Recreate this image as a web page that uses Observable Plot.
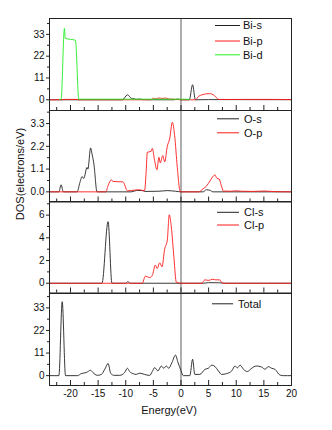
<!DOCTYPE html>
<html><head><meta charset="utf-8">
<script src="https://cdn.jsdelivr.net/npm/d3@7"></script>
<script src="https://cdn.jsdelivr.net/npm/@observablehq/plot@0.6"></script>
<style>
body{margin:0;background:#fff;}
#wrap{position:relative;width:332px;height:430px;font-family:"Liberation Sans",Arial,sans-serif;color:#111;}
#wrap svg{position:absolute;left:0;overflow:visible;}
.lbl{position:absolute;white-space:nowrap;font-size:11px;transform:translate(-50%,-50%);}
</style></head><body><div id="wrap"></div>
<script>
// ---- data (energy eV, DOS) ----
const energyTicks = [-20,-15,-10,-5,0,5,10,15,20];
const energyMinor = [-22.5,-17.5,-12.5,-7.5,-2.5,2.5,7.5,12.5,17.5];

const biS = [[-23.8,0],[-10.6,0],[-9.7,2.5],[-9.0,0.8],[-8.5,0.5],[-8,0.2],[-7.5,0.4],[-7,0.1],[-5,0],[-1.2,0],[-0.6,0.4],[0,0],[1.5,0],[2.1,7.6],[2.6,0],[5,0.1],[20,0.05]];
const biP = [[-23.8,0],[-21.8,0],[-21,0.2],[-19,0.2],[-18.5,0],[-5.5,0],[-5,0.8],[-4.6,0.5],[-4,0.9],[-3.4,0.7],[-2.8,0.9],[-2.2,0.4],[-1.5,0.3],[-0.5,0.1],[0,0],[2.6,0],[3.2,1.8],[3.8,2.5],[4.6,3.0],[5.2,3.1],[5.8,2.6],[6.3,1.5],[6.8,0.2],[8,0.15],[12,0.2],[16,0.2],[20,0.1]];
const biD = [[-22,0.2],[-21.7,0.3],[-21.1,36],[-20.95,31],[-19.1,30],[-18.5,0.3],[-15,0.3],[-10,0.3],[-5,0.3],[0,0.3],[1.6,0.2]];

const oS = [[-23.8,0],[-22.1,0],[-21.7,0.34],[-21.3,0],[-18.8,0],[-18.3,0.45],[-17.9,0.74],[-17.6,0.65],[-17.0,1.18],[-16.85,1.1],[-16.36,2.12],[-16.1,1.83],[-15.76,1.34],[-15.2,0],[-9,0],[-8,0.07],[-7,0.06],[-6.5,0.02],[-4,0.03],[-2.5,0.06],[-1,0.03],[0,0],[4,0],[4.6,0.1],[5.2,0.08],[5.8,0],[20,0]];
const oP = [[-23.8,0],[-13.6,0],[-13.2,0.3],[-12.6,0.58],[-12.3,0.5],[-10.5,0.48],[-9.7,0.05],[-8.5,0.08],[-7.5,0.1],[-6.6,0.05],[-6.3,1.0],[-6.1,1.91],[-5.4,1.96],[-5.2,2.1],[-4.77,1.5],[-4.35,1.07],[-4.0,1.67],[-3.75,1.4],[-3.3,1.75],[-2.95,1.45],[-2.48,2.2],[-2.05,2.56],[-1.57,3.36],[-1.15,2.72],[-0.67,1.18],[-0.13,0],[3.2,0],[4.0,0.15],[4.65,0.29],[5.25,0.53],[6.16,0.82],[6.47,0.66],[6.9,0.62],[7.3,0.3],[7.66,0.04],[9,0.03],[10,0.05],[11,0.03],[13,0.02],[15,0.04],[17,0.01],[20,0]];

const clS = [[-23.8,0],[-14.3,0],[-13.2,5.43],[-12.5,0],[-10,0],[-9.6,0.15],[-9.2,0],[4,0],[5,0.05],[7,0.04],[8,0],[20,0]];
const clP = [[-23.8,0],[-7,0],[-6.46,0.62],[-5.67,0.5],[-5.2,0.68],[-4.65,1.6],[-4.3,1.3],[-3.86,1.8],[-3.44,1.45],[-2.96,3.0],[-2.48,3.8],[-2.12,6.03],[-1.76,5.0],[-1.27,2.2],[-0.85,0.1],[0,0],[3.8,0],[4.3,0.3],[5,0.25],[5.7,0.35],[6.3,0.3],[7,0.3],[7.5,0],[20,0]];

const total = [[-23.8,0],[-22.1,0],[-21.5,36],[-20.9,0],[-18.7,0],[-18.06,1.0],[-17.15,1.5],[-16.36,2.6],[-15.94,1.5],[-15.16,0.15],[-14.4,0.6],[-13.8,3.1],[-13.2,5.9],[-12.7,1],[-12.1,0.15],[-11.1,0.15],[-10.2,1.5],[-9.7,3.6],[-9.3,2],[-8.7,1],[-8.1,0.6],[-7.5,1.2],[-6.6,0.6],[-5.67,0.1],[-5.2,2],[-4.77,3.9],[-4.17,2.3],[-3.57,4.7],[-3.13,3.6],[-2.66,4.7],[-2.23,3.6],[-1.63,6.4],[-1.0,10],[-0.54,6.4],[0,2.5],[0.4,0],[1.6,0],[2.1,8],[2.5,0.6],[3.4,0.6],[4.35,3.1],[4.95,3.6],[5.56,5.1],[6.16,4.4],[6.76,2.3],[7.37,0.6],[8.27,1],[9.18,2.3],[9.78,4.7],[10.2,3.8],[10.7,5.1],[11.3,3.1],[12.0,2],[12.8,3.6],[13.6,4.7],[14.6,4.2],[15.2,3.1],[15.8,4.4],[16.4,3.6],[17.0,3.1],[17.9,0.3],[18.5,0],[20,0]];

const ticks1 = [0,11,22,33], minor1 = [5.5,16.5,27.5,38.5];
const ticks2 = [0,1.1,2.2,3.3], minor2 = [0.55,1.65,2.75,3.85];
const ticks3 = [0,2,4,6], minor3 = [1,3,5,7];
const ticks4 = [0,11,22,33], minor4 = [5.5,16.5,27.5,38.5];

// ---- layout ----
const BLACK = "#222", RED = "#ff1a1a", GREEN = "#22ee22";
const panels = [
  {top:17.5, bottom:109.5, domain:[-5.4,41], ticks:ticks1, minor:minor1, fmt:d=>String(d),
   series:[{name:"Bi-s",data:biS,color:BLACK},{name:"Bi-p",data:biP,color:RED},{name:"Bi-d",data:biD,color:GREEN}],
   legend:{x1:215,x2:240,tx:243,ys:[25,40.5,54.3]}},
  {top:109.5, bottom:201, domain:[-0.49,3.93], ticks:ticks2, minor:minor2, fmt:d3.format(".1f"),
   series:[{name:"O-s",data:oS,color:BLACK},{name:"O-p",data:oP,color:RED}],
   legend:{x1:217,x2:239,tx:244,ys:[118.3,132.3]}},
  {top:201, bottom:292.5, domain:[-0.86,7.2], ticks:ticks3, minor:minor3, fmt:d=>String(d),
   series:[{name:"Cl-s",data:clS,color:BLACK},{name:"Cl-p",data:clP,color:RED}],
   legend:{x1:217,x2:239,tx:244,ys:[212.3,225]}},
  {top:292.5, bottom:384.5, domain:[-4.8,40], ticks:ticks4, minor:minor4, fmt:d=>String(d),
   series:[{name:"Total",data:total,color:BLACK}],
   legend:{x1:212,x2:233,tx:238,ys:[303.3]}}
];

const wrap = document.getElementById("wrap");
panels.forEach((p, i) => {
  const isLast = i === panels.length - 1;
  const innerH = p.bottom - p.top;
  const mt = 6, mb = isLast ? 30 : 6;
  const marks = [
    Plot.ruleX([0], {stroke:"#333", strokeWidth:0.8}),
    ...p.series.map(s => Plot.line(s.data, {x:d=>d[0], y:d=>d[1], stroke:s.color, strokeWidth:0.9, curve:"monotone-x"})),
    Plot.tickX(energyTicks, {x:d=>d, insetTop:innerH-5, stroke:BLACK}),
    Plot.tickX(energyMinor, {x:d=>d, insetTop:innerH-3, stroke:BLACK}),
    Plot.axisY({ticks:p.ticks, tickSize:3, tickPadding:2, tickFormat:p.fmt, label:null, fontSize:10, stroke:BLACK, fill:"#111"}),
    Plot.axisY({ticks:p.minor, tickSize:2, tickFormat:()=>"", label:null, stroke:BLACK}),
    Plot.frame({stroke:BLACK})
  ];
  if (isLast) marks.push(Plot.axisX({ticks:energyTicks, tickSize:0, tickPadding:4, tickFormat:d=>String(d), label:null, fontSize:10, fill:"#111"}));
  const svg = Plot.plot({
    width:332, height:innerH+mt+mb, marginTop:mt, marginBottom:mb, marginLeft:49, marginRight:41,
    x:{domain:[-23.8,20], axis: isLast ? undefined : null},
    y:{domain:p.domain},
    style:{background:"transparent", overflow:"visible", fontFamily:"Liberation Sans, Arial, sans-serif", fontSize:"10px"},
    marks
  });
  const off = p.top - mt;
  svg.style.position = "absolute";
  svg.style.top = off + "px";
  const g = d3.select(svg).append("g").attr("text-anchor", "start");
  p.series.forEach((s, k) => {
    const y = p.legend.ys[k] - off;
    g.append("line").attr("x1", p.legend.x1).attr("x2", p.legend.x2).attr("y1", y).attr("y2", y)
      .attr("stroke", s.color).attr("stroke-width", 1);
    g.append("text").attr("x", p.legend.tx).attr("y", y).attr("dy", "0.35em")
      .attr("text-anchor", "start").attr("font-size", 11).attr("fill", "#111").text(s.name);
  });
  wrap.appendChild(svg);
});

const yl = document.createElement("div");
yl.className = "lbl";
yl.style.left = "20px"; yl.style.top = "174px";
yl.style.transform = "translate(-50%,-50%) rotate(-90deg)";
yl.textContent = "DOS(electrons/eV)";
wrap.appendChild(yl);

const xl = document.createElement("div");
xl.className = "lbl";
xl.style.left = "169px"; xl.style.top = "410px";
xl.textContent = "Energy(eV)";
wrap.appendChild(xl);
</script></body></html>
